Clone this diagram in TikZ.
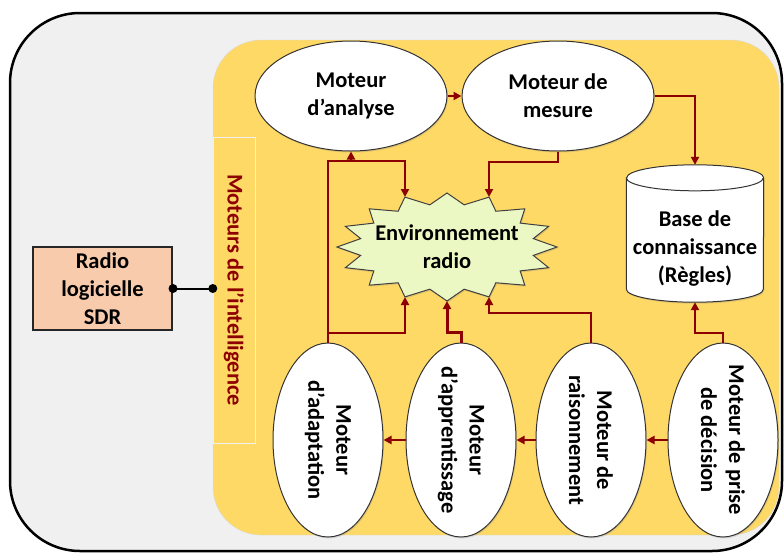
\documentclass[tikz,border=0pt]{standalone}
\usepackage{fontspec}
\setmainfont{Carlito}
\usepackage{tikz}
\usetikzlibrary{positioning, calc, arrows.meta, shapes, shadows}
\definecolor{engred}{RGB}{140,0,0}
\definecolor{panelyellow}{RGB}{255,217,102}
\definecolor{sdrpeach}{RGB}{248,203,173}
\definecolor{outergray}{RGB}{240,240,240}
\definecolor{envgreen}{RGB}{236,248,196}
\definecolor{envedge}{RGB}{205,228,150}
\pgfdeclareradialshading{engineglow}{\pgfpointorigin}{color(0bp)=(white); color(37bp)=(white); color(50bp)=(black!22)}
\pgfdeclareradialshading{envglow}{\pgfpointorigin}{color(0bp)=(envgreen); color(34bp)=(envgreen); color(50bp)=(envedge)}

\begin{document}
\begin{tikzpicture}[x=1pt, y=-1pt, >={Triangle[length=8pt, width=8pt]}, node distance=16pt,
    every node/.style={font=\fontsize{22.5}{28}\selectfont\bfseries, align=center},
    engine/.style={ellipse, draw=black!80, line width=1pt, inner sep=0pt, shading=engineglow,
        drop shadow={opacity=0.25, shadow xshift=1pt, shadow yshift=-1.5pt}},
    hengine/.style={engine, minimum width=192, minimum height=110},
    vengine/.style={engine, minimum width=110, minimum height=194},
    vlab/.style={rotate=-90},
    flow/.style={->, draw=engred, line width=2pt},
    sdr/.style={rectangle, draw=black!85, line width=2pt, fill=sdrpeach, minimum width=139, minimum height=83, inner sep=1pt},
    strip/.style={rectangle, draw=black!6, fill=panelyellow, minimum width=42, minimum height=306},
    cyl/.style={draw=black!80, line width=1pt, fill=white},
    envstar/.style={draw=black!75, line width=1pt, shading=envglow,
        drop shadow={opacity=0.25, shadow xshift=1pt, shadow yshift=-1.5pt}}]
    \useasboundingbox (0,0) rectangle (784,555);

    % Frame and panel
    \draw[line width=2.5pt, fill=outergray, rounded corners=70pt] (10,13) rectangle (782,551);
    \draw[black!15, fill=panelyellow, rounded corners=48pt] (213,40) rectangle (779,535);
    \node[strip, label={[rotate=-90, text=engred]center:Moteurs de l’intelligence}] (strip) at (234,290) {};

    % SDR block
    \node[sdr] (sdr) at (102.5,288.5) {Radio\\logicielle\\SDR};
    \draw[line width=2pt] (sdr.east) -- (sdr.east -| strip.west);
    \fill (sdr.east) circle[radius=4.5pt] (sdr.east -| strip.west) circle[radius=4.5pt];

    % Top engines
    \node[hengine] (ana) at (351,96) {Moteur\\d’analyse};
    \node[hengine, right=14pt of ana] (mes) {Moteur de\\mesure};

    % Knowledge base
    \node[minimum width=137, minimum height=137, inner sep=0pt] (base) at (695,233.5) {};
    \draw[cyl, drop shadow={opacity=0.25, shadow xshift=1pt, shadow yshift=-1.5pt}]
        ($(base.north west)+(0,13)$) -- ($(base.south west)+(0,-13)$)
        arc[start angle=180, end angle=360, x radius=68.5pt, y radius=13pt]
        -- ($(base.north east)+(0,13)$)
        arc[start angle=0, end angle=180, x radius=68.5pt, y radius=13pt] -- cycle;
    \draw[cyl, fill=none] ($(base.north west)+(0,13)$) arc[start angle=180, end angle=360, x radius=68.5pt, y radius=13pt];
    \node (baselbl) at ($(base)+(0,15)$) {Base de\\connaissance\\(Règles)};

    % Radio environment
    \draw[envstar] plot[samples at={0,...,32}]
        ({447+(isodd(\x)?88:110)*cos(\x*11.25)}, {247+(isodd(\x)?43:54)*sin(\x*11.25)}) -- cycle;
    \node (env) at (447,247) {Environnement\\radio};
    \coordinate (envTL) at (405,197);
    \coordinate (envTR) at (489,197);
    \coordinate (envBL) at (405,297);
    \coordinate (envB)  at (447,301);
    \coordinate (envBR) at (489,297);

    % Bottom engines
    \node[vengine, label={[vlab]center:Moteur de prise\\de décision}] (dec) at (723,440) {};
    \node[vengine, left=21pt of dec, label={[vlab]center:Moteur de\\raisonnement}] (rais) {};
    \node[vengine, left=19pt of rais, label={[vlab]center:Moteur\\d’apprentissage}] (app) {};
    \node[vengine, left=22pt of app, label={[vlab]center:Moteur\\d’adaptation}] (adapt) {};

    % Connectors
    \coordinate (busA) at (405,161);
    \coordinate (busB) at (405,333);
    \draw[flow] (ana) -- (mes);
    \draw[flow] (mes.east) -| (base.north);
    \draw[flow] (mes.south) -- ++(0,10) -| (envTR);
    \draw[flow] (adapt.north) |- (busA) -- (envTL);
    \draw[flow] (ana.south |- busA) -- (ana.south);
    \draw[flow] (adapt.north |- busB) -- (busB) -- (envBL);
    \draw[flow, line width=3pt] (app.north) -- ++(0,-10) -| (envB);
    \draw[flow] (rais.north) -- ++(0,-30) -| (envBR);
    \draw[flow] (dec.north) -- ++(0,-10) -| (base.south);
    \draw[flow] (dec) -- (rais);
    \draw[flow] (rais) -- (app);
    \draw[flow] (app) -- (adapt);
\end{tikzpicture}
\end{document}
